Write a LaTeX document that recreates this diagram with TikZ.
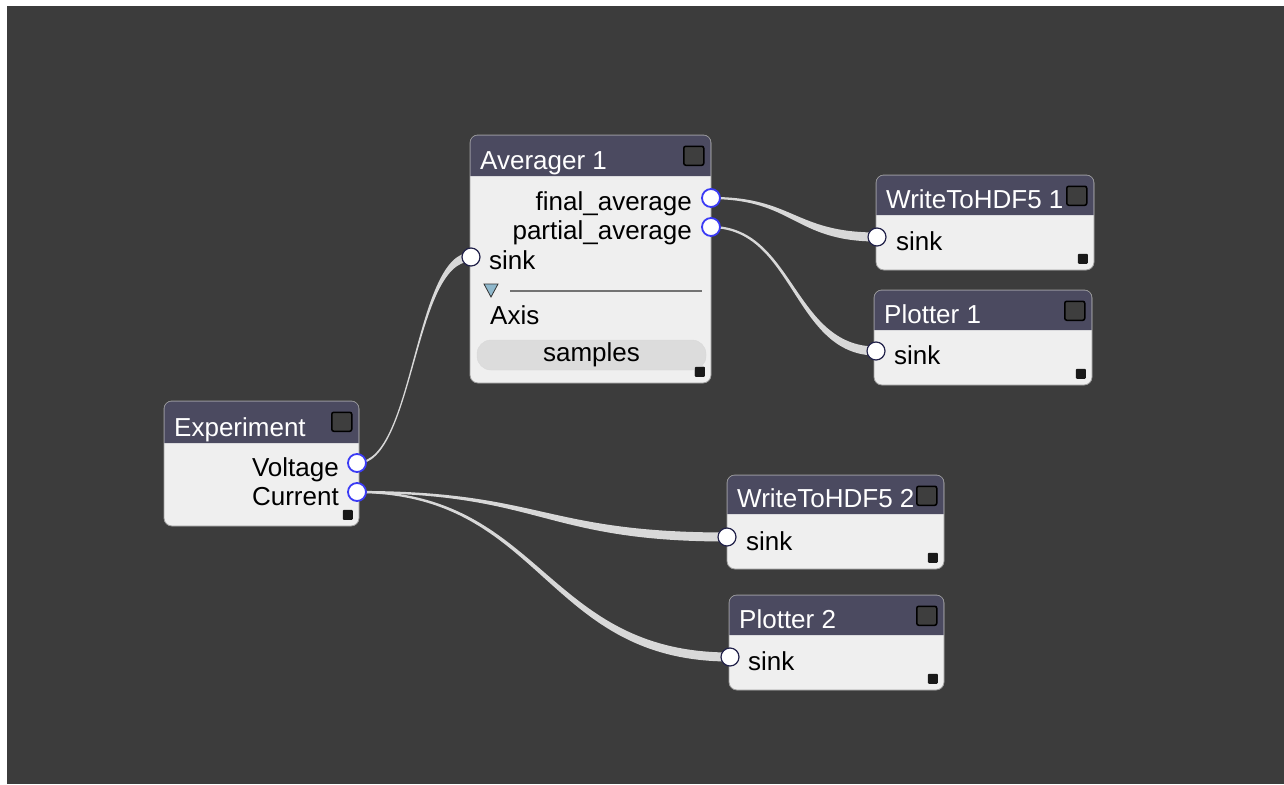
\documentclass[tikz,border=0pt]{standalone}
\usepackage{fontspec}
\setmainfont{Liberation Sans}
\usetikzlibrary{calc,fit}
\pgfdeclarelayer{canvaslayer}
\pgfdeclarelayer{wires}
\pgfsetlayers{canvaslayer,wires,main}
\definecolor{canvas}{HTML}{3C3C3C}
\definecolor{bodyc}{HTML}{EFEFEF}
\definecolor{barc}{HTML}{4B4A60}
\definecolor{btnc}{HTML}{3E3E3E}
\definecolor{outring}{HTML}{3B3BF5}
\definecolor{inring}{HTML}{22224A}
\definecolor{wirec}{HTML}{D8D8D8}
\definecolor{pillc}{HTML}{DCDCDC}
\definecolor{tric}{HTML}{8FB8CC}

\tikzset{
  body/.style={draw=gray!75, line width=0.8pt, fill=bodyc, rounded corners=8pt, inner sep=0pt},
  titlebar/.style={fill=barc},
  titletext/.style={text=white, font=\fontsize{26}{29}\selectfont, inner sep=0pt, anchor=base west},
  portlabel/.style={text=black, font=\fontsize{26}{29}\selectfont, inner sep=0pt},
  btn/.style={draw=black, line width=1.5pt, fill=btnc, rounded corners=2pt, inner sep=0pt,
              minimum width=20pt, minimum height=19pt, anchor=north east},
  grip/.style={fill=black!90, rounded corners=1pt, inner sep=0pt, minimum size=10pt, anchor=south east},
  outport/.style={circle, draw=outring, line width=1.8pt, fill=white, minimum size=18pt, inner sep=0pt},
  inport/.style={circle, draw=inring, line width=1.2pt, fill=white, minimum size=18pt, inner sep=0pt},
  wire/.style={fill=wirec},
  pill/.style={fill=pillc, draw=gray!30, rounded corners=14pt, inner sep=0pt,
               font=\fontsize{26}{29}\selectfont, text=black},
}

% block: name, left, top, right, bottom, title-bar bottom, title
\newcommand\flowblock[7]{%
  \node[body, fit={(#2,#3) (#4,#5)}] (#1) {};
  \fill[titlebar] (#2+0.4,#6) {[rounded corners=7.5pt] -- (#2+0.4,#3+0.4) -- (#4-0.4,#3+0.4)} -- (#4-0.4,#6) -- cycle;
  \node[titletext] (#1-title) at (#2+10,#6-7) {#7};
  \node[btn] (#1-btn) at (#4-6.5,#3+10.5) {};
  \node[grip] (#1-grip) at (#4-6,#5-6) {};
}

% tapered connector between two ports: from, to, control distance
\newcommand\wire[3]{%
  \fill[wire] ($(#1)+(0,-1.1)$) .. controls ($(#1)+(#3,-1.1)$) and ($(#2)+(-#3,-4.5)$) .. ($(#2)+(0,-4.5)$)
    -- ($(#2)+(0,4.5)$) .. controls ($(#2)+(-#3,4.5)$) and ($(#1)+(#3,1.1)$) .. ($(#1)+(0,1.1)$) -- cycle;
}

\begin{document}
\begin{tikzpicture}[x=1pt, y=-1pt]
\useasboundingbox (0,0) rectangle (1284,784);
\begin{pgfonlayer}{canvaslayer}
  \fill[white] (0,0) rectangle (1284,784);
  \fill[canvas] (7,6) rectangle (1284,784);
\end{pgfonlayer}

% blocks
\flowblock{avg}{470}{135}{711}{383}{176}{Averager 1}
\flowblock{exp}{164}{401}{359}{526}{443}{Experiment}
\flowblock{wa}{876}{175}{1094}{270}{215}{WriteToHDF5 1}
\flowblock{pa}{874}{290}{1092}{385}{330}{Plotter 1}
\flowblock{wb}{727}{475}{944}{569}{514}{WriteToHDF5 2}
\flowblock{pb}{729}{595}{944}{690}{635}{Plotter 2}

% Averager 1 contents
\node[portlabel, anchor=base east] (avg-finl) at (692,210) {final\_average};
\node[portlabel, anchor=base east] (avg-partl) at (692,239) {partial\_average};
\node[portlabel, anchor=base west] (avg-sinkl) at (489,269) {sink};
\fill[tric, draw=black!80, line width=0.8pt] (484,284) -- (498,284) -- (491,297) -- cycle;
\draw[black!55, line width=1.5pt] (510,291) -- (702,291);
\node[portlabel, anchor=base west] (avg-axis) at (490,324) {Axis};
\node[pill, minimum width=229pt, minimum height=30pt] (avg-samples) at (591.5,355) {samples};
\node[grip] at (705,377) {};

% Experiment contents
\node[portlabel, anchor=base east] (exp-voltl) at (339,476) {Voltage};
\node[portlabel, anchor=base east] (exp-curl) at (339,505) {Current};

% sinks
\node[portlabel, anchor=base west] (wa-sinkl) at (896,250) {sink};
\node[portlabel, anchor=base west] (pa-sinkl) at (894,364) {sink};
\node[portlabel, anchor=base west] (wb-sinkl) at (746,550) {sink};
\node[portlabel, anchor=base west] (pb-sinkl) at (748,670) {sink};

% ports
\node[outport] (avg-fin) at (711,198) {};
\node[outport] (avg-part) at (711,227) {};
\node[inport] (avg-sink) at (471,257) {};
\node[outport] (exp-volt) at (357,463) {};
\node[outport] (exp-cur) at (357,492) {};
\node[inport] (wa-sink) at (877,237) {};
\node[inport] (pa-sink) at (876,351) {};
\node[inport] (wb-sink) at (727,537) {};
\node[inport] (pb-sink) at (730,657) {};

% connectors
\begin{pgfonlayer}{wires}
  \wire{exp-volt}{avg-sink}{57}
  \wire{avg-fin}{wa-sink}{83}
  \wire{avg-part}{pa-sink}{83}
  \wire{exp-cur}{wb-sink}{185}
  \wire{exp-cur}{pb-sink}{186}
\end{pgfonlayer}
\end{tikzpicture}
\end{document}
